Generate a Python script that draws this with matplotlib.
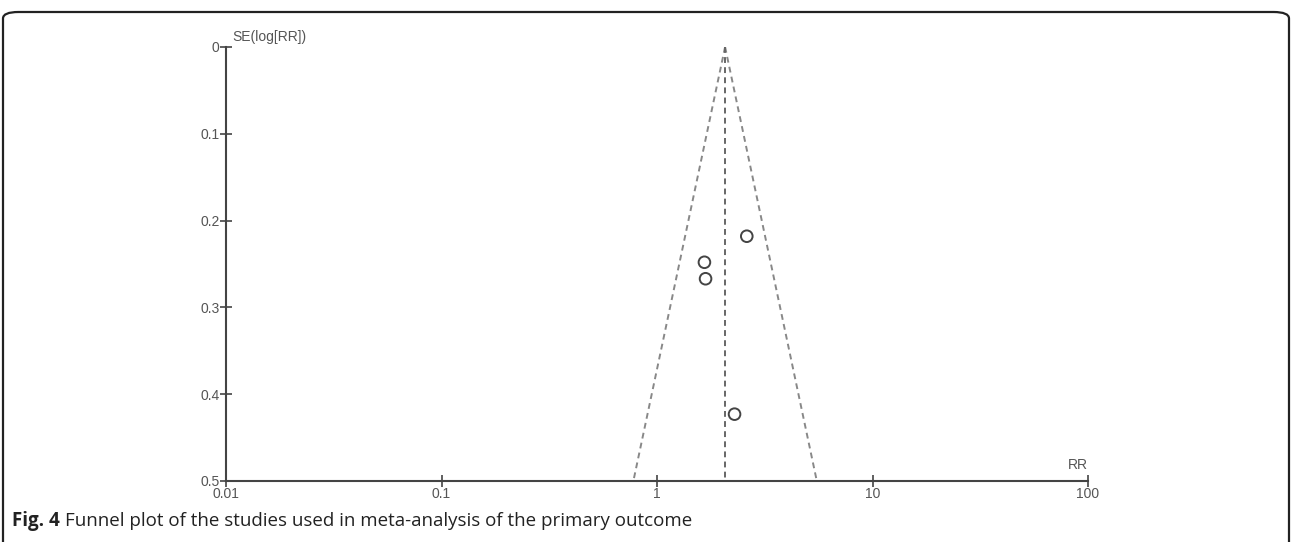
import numpy as np
import matplotlib
matplotlib.use("Agg")
import matplotlib.pyplot as plt
from matplotlib.patches import FancyBboxPatch

# Data
rr_values = [2.61, 1.66, 1.68, 2.29]
se_values = [0.218, 0.248, 0.267, 0.423]
pooled_rr = 2.07
se_max = 0.5
x_ticks = [0.01, 0.1, 1, 10, 100]
x_tick_labels = ["0.01", "0.1", "1", "10", "100"]
y_ticks = [0, 0.1, 0.2, 0.3, 0.4, 0.5]
y_tick_labels = ["0", "0.1", "0.2", "0.3", "0.4", "0.5"]

fig = plt.figure(figsize=(12.92, 5.42), dpi=100)
ax = fig.add_axes([226/1292, 1-481/542, (1088-226)/1292, (481-47)/542])

ax.set_xscale("log")
ax.set_xlim(0.01, 100)
ax.set_ylim(se_max, 0)

# funnel
se_line = np.array([0, se_max])
lo = np.exp(np.log(pooled_rr) - 1.96 * se_line)
hi = np.exp(np.log(pooled_rr) + 1.96 * se_line)
dash = dict(color="#888888", lw=1.4, ls=(0, (3, 2.2)))
ax.plot(lo, se_line, **dash)
ax.plot(hi, se_line, **dash)
ax.plot([pooled_rr, pooled_rr], [0, se_max], color="#666666", lw=1.4, ls=(0, (3, 2.2)))

ax.scatter(rr_values, se_values, s=70, facecolors="none", edgecolors="#444444", linewidths=1.4, zorder=3)

for s in ["top", "right"]:
    ax.spines[s].set_visible(False)
for s in ["left", "bottom"]:
    ax.spines[s].set_color("#444444")
    ax.spines[s].set_linewidth(1.5)

ax.set_xticks(x_ticks)
ax.set_xticklabels(x_tick_labels)
ax.xaxis.set_minor_locator(matplotlib.ticker.NullLocator())
ax.set_yticks(y_ticks)
ax.set_yticklabels(y_tick_labels)
ax.tick_params(axis="both", direction="inout", length=9, width=1.2, color="#444444",
               labelsize=10, labelcolor="#555555", pad=0)
for lab in ax.get_xticklabels() + ax.get_yticklabels():
    lab.set_family("Liberation Sans")

ax.text(0.0107, -0.003, "SE(log[RR])", ha="left", va="bottom",
        fontsize=10, color="#555555", family="Liberation Sans")
ax.text(100, 0.49, "RR", ha="right", va="bottom", fontsize=10, color="#555555",
        family="Liberation Sans")

# border
box = FancyBboxPatch((3/1292, -0.05), 1 - 6/1292, 1.05 - 12/542,
                     boxstyle="round,pad=0,rounding_size=0.012",
                     transform=fig.transFigure, fill=False, ec="#222222", lw=1.6)
fig.patches.append(box)

t1 = fig.text(12/1292, 1-521/542, "Fig. 4", fontsize=13.5, va="center", ha="left",
              family="Open Sans", weight="bold", color="#222222")
fig.canvas.draw()
bb = t1.get_window_extent()
fig.text((bb.x1 + 5)/1292, 1-521/542,
         "Funnel plot of the studies used in meta-analysis of the primary outcome",
         fontsize=13.5, va="center", ha="left", family="Open Sans", color="#222222")

fig.savefig("out.png", dpi=100)
